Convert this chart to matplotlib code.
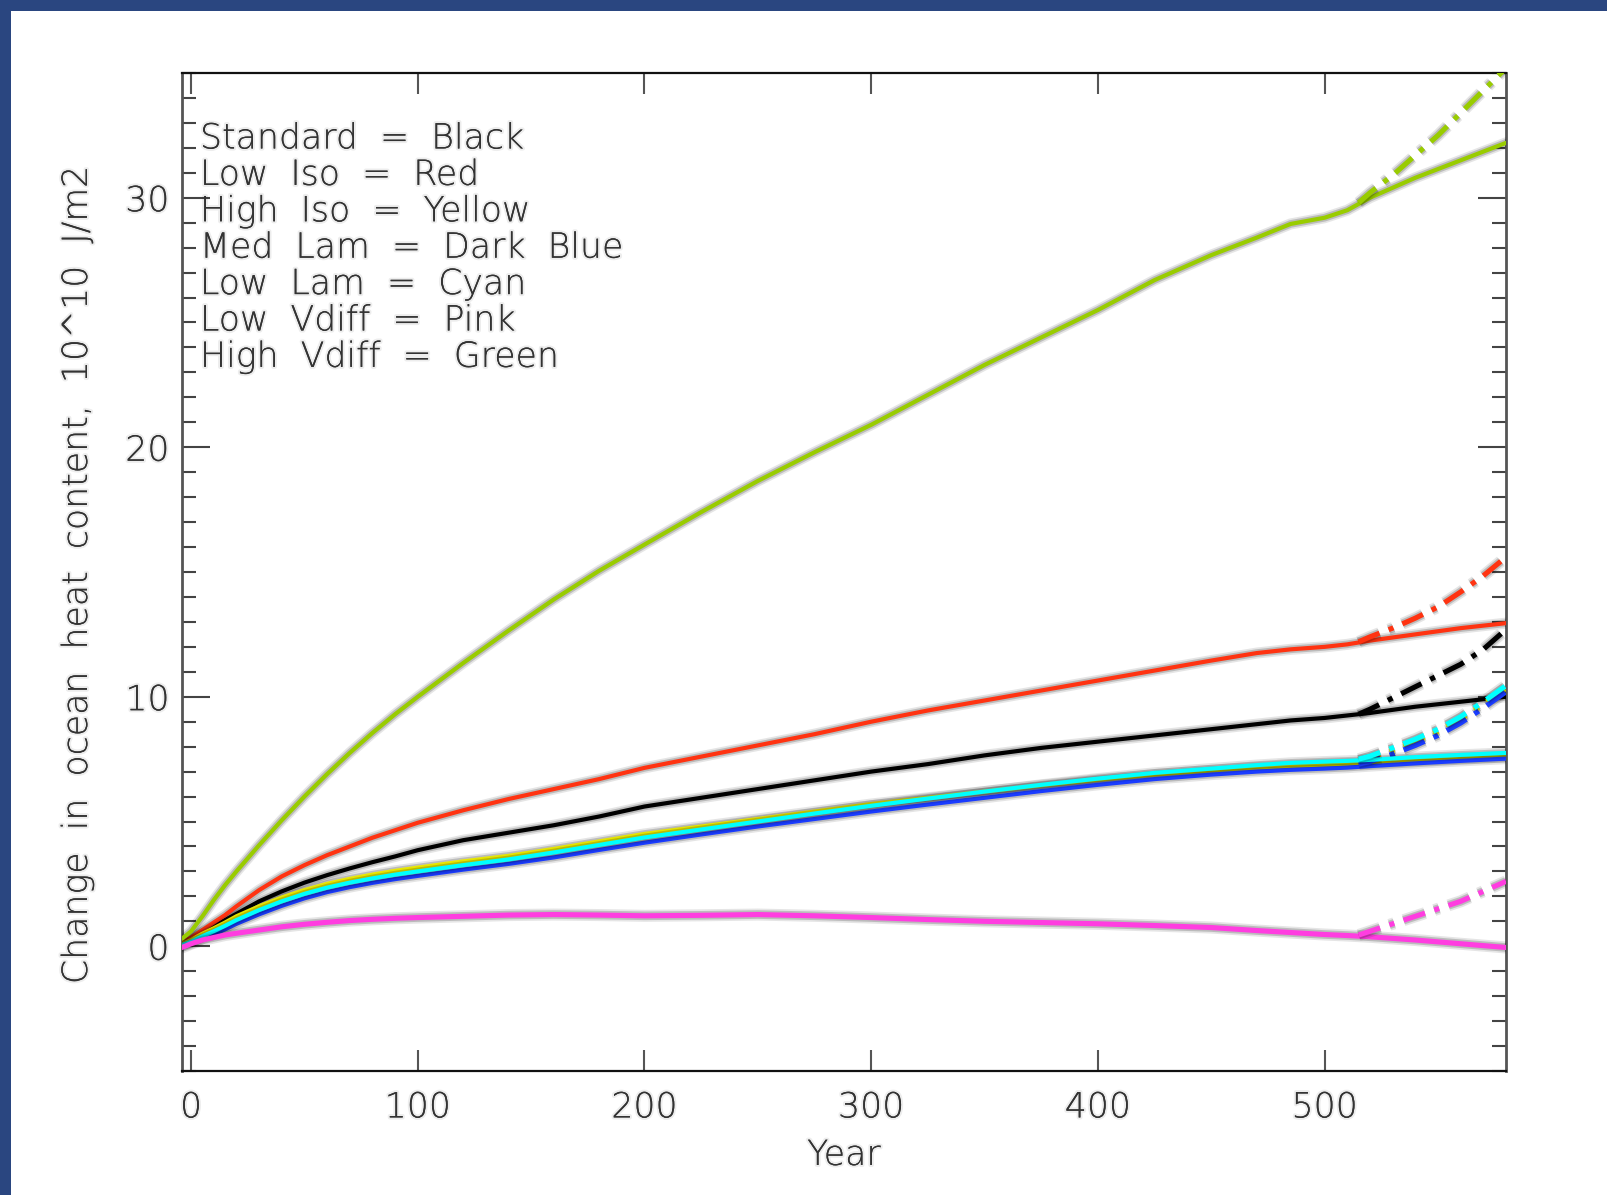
import matplotlib
matplotlib.use("Agg")
import matplotlib.pyplot as plt
import matplotlib.patheffects as pe
from matplotlib import font_manager as fm
from matplotlib.patches import Rectangle
from matplotlib.ticker import MultipleLocator, FixedLocator

# ---------------- data ----------------
years = [-4, 0, 5, 10, 15, 20, 30, 40, 50, 60, 70, 80, 90, 100, 120, 140, 160,
         180, 200, 225, 250, 275, 300, 325, 350, 375, 400, 425, 450, 470, 485,
         500, 510, 520, 540, 560, 580]

standard   = [0.15, 0.3, 0.55, 0.8, 1.05, 1.3, 1.8, 2.2, 2.55, 2.85, 3.12, 3.37,
              3.6, 3.85, 4.25, 4.55, 4.85, 5.2, 5.6, 5.95, 6.3, 6.65, 7.0, 7.3,
              7.65, 7.95, 8.2, 8.45, 8.7, 8.9, 9.05, 9.15, 9.25, 9.35, 9.6,
              9.8, 10.0]
low_iso    = [0.15, 0.35, 0.65, 0.95, 1.25, 1.6, 2.25, 2.8, 3.25, 3.65, 4.0,
              4.35, 4.65, 4.95, 5.45, 5.9, 6.3, 6.7, 7.15, 7.6, 8.05, 8.5, 9.0,
              9.45, 9.85, 10.25, 10.65, 11.05, 11.45, 11.75, 11.9, 12.0, 12.1,
              12.25, 12.5, 12.75, 12.95]
high_iso   = [0.1, 0.25, 0.5, 0.72, 0.95, 1.2, 1.6, 1.95, 2.25, 2.5, 2.7, 2.87,
              3.02, 3.15, 3.4, 3.62, 3.9, 4.2, 4.5, 4.8, 5.1, 5.4, 5.7, 5.95,
              6.2, 6.45, 6.68, 6.88, 7.05, 7.17, 7.23, 7.28, 7.32, 7.35, 7.45,
              7.53, 7.6]
low_lam    = [0.05, 0.18, 0.4, 0.6, 0.82, 1.05, 1.45, 1.8, 2.1, 2.35, 2.55,
              2.72, 2.87, 3.0, 3.25, 3.48, 3.76, 4.06, 4.36, 4.68, 5.0, 5.32,
              5.63, 5.92, 6.2, 6.47, 6.72, 6.95, 7.12, 7.26, 7.35, 7.4, 7.43,
              7.47, 7.58, 7.67, 7.75]
med_lam    = [0.0, 0.1, 0.3, 0.48, 0.68, 0.9, 1.28, 1.62, 1.92, 2.17, 2.37,
              2.54, 2.69, 2.82, 3.07, 3.3, 3.56, 3.86, 4.15, 4.48, 4.8, 5.1,
              5.4, 5.68, 5.95, 6.22, 6.47, 6.7, 6.88, 7.0, 7.07, 7.12, 7.16,
              7.22, 7.33, 7.43, 7.52]
low_vdiff  = [-0.05, 0.1, 0.25, 0.35, 0.45, 0.52, 0.65, 0.78, 0.88, 0.96,
              1.03, 1.08, 1.12, 1.15, 1.2, 1.25, 1.27, 1.25, 1.22, 1.24, 1.27,
              1.22, 1.15, 1.07, 1.0, 0.95, 0.9, 0.83, 0.75, 0.63, 0.55, 0.47,
              0.43, 0.38, 0.25, 0.1, -0.05]
high_vdiff = [0.3, 0.6, 1.2, 1.85, 2.45, 3.0, 4.05, 5.05, 6.0, 6.9, 7.75, 8.55,
              9.3, 10.0, 11.35, 12.65, 13.9, 15.05, 16.1, 17.4, 18.65, 19.8,
              20.9, 22.1, 23.3, 24.4, 25.5, 26.7, 27.7, 28.4, 28.95, 29.2, 29.5,
              30.0, 30.8, 31.5, 32.2]

# dash-dot continuations
years_alt = [515, 520, 530, 540, 550, 560, 570, 580]
standard_alt   = [9.3, 9.5, 9.95, 10.4, 10.85, 11.3, 11.9, 12.7]
low_iso_alt    = [12.2, 12.4, 12.75, 13.15, 13.6, 14.2, 14.85, 15.6]
high_iso_alt   = [7.42, 7.55, 7.85, 8.2, 8.6, 9.1, 9.7, 10.35]
low_lam_alt    = [7.5, 7.62, 7.95, 8.3, 8.7, 9.2, 9.8, 10.45]
med_lam_alt    = [7.3, 7.4, 7.7, 8.05, 8.45, 8.95, 9.55, 10.2]
low_vdiff_alt  = [0.45, 0.6, 0.9, 1.2, 1.5, 1.8, 2.2, 2.6]
high_vdiff_alt = [29.8, 30.2, 30.9, 31.7, 32.5, 33.4, 34.3, 35.2]

legend_lines = ["Standard = Black", "Low Iso = Red", "High Iso = Yellow",
                "Med Lam = Dark Blue", "Low Lam = Cyan", "Low Vdiff = Pink",
                "High Vdiff = Green"]
x_ticks = [0, 100, 200, 300, 400, 500]
y_ticks = [0, 10, 20, 30]
x_label = "Year"
y_label = "Change in ocean heat content, 10^10 J/m2"


def wide(s):
    # the original (Hershey) font has very wide word spaces
    return s.replace(" ", "  ")


# pick a thin font if one is installed (the original uses a thin stroke font)
font, weight = "DejaVu Sans", "normal"
for fam, w, key in [("DejaVu Sans", 200, "extralight"), ("Lato", 300, "light"),
                    ("Roboto", 300, "light"), ("Open Sans", 300, "light")]:
    try:
        path = fm.findfont(fm.FontProperties(family=fam, weight=w),
                           fallback_to_default=False)
    except Exception:
        continue
    if key in path.lower().replace("-", "").replace("_", ""):
        font, weight = fam, w
        break

# ---------------- figure ----------------
W, H = 1607, 1195
fig = plt.figure(figsize=(W / 100, H / 100), dpi=100)
fig.patch.set_facecolor("white")

navy = "#2a4680"
fig.patches.append(Rectangle((0, 1 - 11 / H), 1, 11 / H, transform=fig.transFigure,
                             facecolor=navy, edgecolor="none", zorder=0))
fig.patches.append(Rectangle((0, 0), 11 / W, 1, transform=fig.transFigure,
                             facecolor=navy, edgecolor="none", zorder=0))

ax = fig.add_axes([182 / W, (H - 1071) / H, (1506 - 182) / W, (1071 - 73) / H])
ax.set_xlim(-4, 580)
ax.set_ylim(-5, 35)

text_col = "#333333"
fs = 25
glow = [pe.withStroke(linewidth=3, foreground=(0, 0, 0, 0.07))]


def shadow(lw):
    return [pe.Stroke(linewidth=lw + 5, foreground=(0, 0, 0, 0.10)),
            pe.Stroke(linewidth=lw + 2.5, foreground=(0, 0, 0, 0.18)),
            pe.Normal()]


series = [
    (standard, standard_alt, "#000000", 3.0),
    (low_iso, low_iso_alt, "#ff3311", 3.0),
    (high_iso, high_iso_alt, "#ffff00", 3.0),
    (med_lam, med_lam_alt, "#1a3cff", 3.0),
    (low_lam, low_lam_alt, "#00ffff", 3.0),
    (low_vdiff, low_vdiff_alt, "#ff3de0", 3.7),
    (high_vdiff, high_vdiff_alt, "#99cc00", 3.0),
]

for i, (ys, ys_alt, col, lw) in enumerate(series):
    ax.plot(years, ys, color=col, lw=lw, solid_capstyle="round",
            solid_joinstyle="round", path_effects=shadow(lw), zorder=3 + i)
for i, (ys, ys_alt, col, lw) in enumerate(series):
    ax.plot(years_alt, ys_alt, color=col, lw=3.7,
            dashes=(4.4, 1.9, 1.0, 1.9), path_effects=shadow(3.7),
            zorder=3 + i)

# axes frame and ticks
for side in ["top", "bottom"]:
    ax.spines[side].set_linewidth(1.6)
    ax.spines[side].set_color("#111111")
for side in ["left", "right"]:
    ax.spines[side].set_linewidth(2.0)
    ax.spines[side].set_color("#555555")

ax.xaxis.set_major_locator(FixedLocator(x_ticks))
ax.yaxis.set_major_locator(FixedLocator(y_ticks))
ax.yaxis.set_minor_locator(MultipleLocator(1))
ax.tick_params(axis="x", which="major", direction="in", length=15, width=1.5,
               color="#555555", top=True, bottom=True, pad=14,
               labelsize=fs, labelcolor=text_col)
ax.tick_params(axis="y", which="major", direction="in", length=20, width=1.5,
               color="#444444", left=True, right=True, pad=9,
               labelsize=fs, labelcolor=text_col)
ax.tick_params(axis="y", which="minor", direction="in", length=10, width=1.5,
               color="#444444", left=True, right=True)
ax.set_xticklabels([str(v) for v in x_ticks], fontfamily=font, fontweight=weight)
ax.set_yticklabels([str(v) for v in y_ticks], fontfamily=font, fontweight=weight)
for lbl in ax.get_xticklabels() + ax.get_yticklabels():
    lbl.set_path_effects(glow)

fig.text(844 / W, 1 - 1155 / H, x_label, ha="center", va="center", fontsize=fs,
         color=text_col, family=font, fontweight=weight, path_effects=glow)
fig.text(77 / W, 1 - 575 / H, wide(y_label), ha="center", va="center",
         fontsize=fs, color=text_col, family=font, fontweight=weight,
         rotation=90, path_effects=glow)

for k, line in enumerate(legend_lines):
    fig.text(200 / W, 1 - (138.5 + 36.4 * k) / H, wide(line), ha="left",
             va="center", fontsize=fs, color=text_col, family=font,
             fontweight=weight, path_effects=glow)

fig.savefig("out.png", dpi=100, facecolor="white")
